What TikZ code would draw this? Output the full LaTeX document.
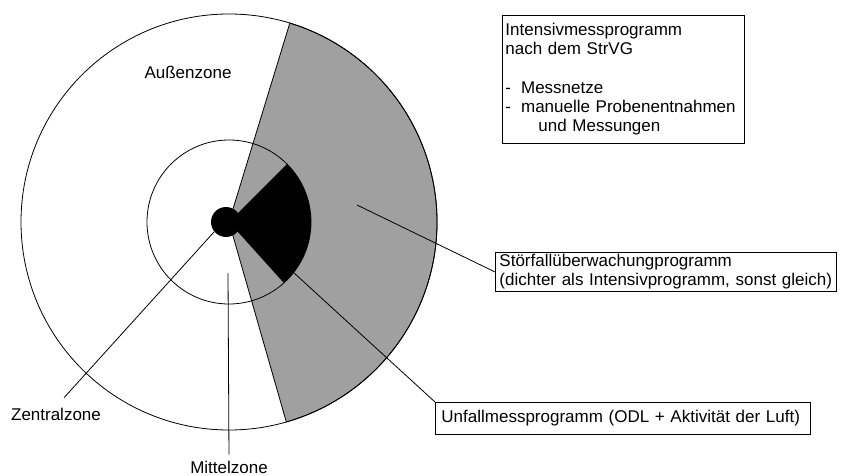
\documentclass[tikz,border=0pt]{standalone}
\usepackage{fontspec}
\setmainfont{Liberation Sans}
\usepackage{tikz}
\definecolor{zonegray}{RGB}{160,160,160}

\begin{document}
\begin{tikzpicture}[x=1pt,y=1pt,font=\fontsize{17}{19.2}\selectfont]
\tikzstyle{box}=[draw=black,line width=0.9pt,inner xsep=6pt,inner ysep=2pt,align=left,anchor=north west]
\tikzstyle{zone}=[inner sep=1pt]
\tikzstyle{leader}=[line width=0.8pt]
\useasboundingbox (0,0) rectangle (841,475);
\coordinate (c) at (229,253);
% zones
\fill[zonegray,draw=black,line width=0.8pt] (c) -- ++(-74:208pt) arc (-74:73:208pt) -- cycle;
\draw[line width=0.8pt] (c) circle (208pt);
\fill[black] (c) -- ++(-48:82pt) arc (-48:45:82pt) -- cycle;
\draw[line width=0.8pt] (c) circle (82pt);
\fill[black] (226,253) circle (15pt);
% labels
\node[zone] (aussen) at (188,403) {Außenzone};
\node[zone] (zentral) at (56,61) {Zentralzone};
\node[zone] (mittel) at (229,8) {Mittelzone};
\node[box,inner xsep=3pt,inner ysep=8pt,text width=236pt] (intensiv) at (502,460)
  {Intensivmessprogramm\\nach dem StrVG\\[19.2pt]
   -\hspace{10pt}Messnetze\\
   -\hspace{10pt}manuelle Probenentnahmen\\
   \hspace{33pt}und Messungen};
\node[box,inner xsep=4pt,text width=333pt] (stoer) at (495,223)
  {Störfallüberwachungprogramm\\\mbox{(dichter als Intensivprogramm, sonst gleich)}};
\node[box,text width=363pt,minimum height=32pt] (unfall) at (435,73)
  {Unfallmessprogramm (ODL + Aktivität der Luft)};
% leaders
\coordinate (z1) at (214,243);
\coordinate (m1) at (228,202);
\coordinate (s1) at (357,270);
\coordinate (u1) at (293,203);
\draw[leader,shorten >=12pt] (z1) -- (zentral.north);
\draw[leader,shorten >=5pt] (m1) -- (mittel.north);
\draw[leader] (s1) -- (stoer.west);
\draw[leader] (u1) -- (unfall.north west);
\end{tikzpicture}
\end{document}
